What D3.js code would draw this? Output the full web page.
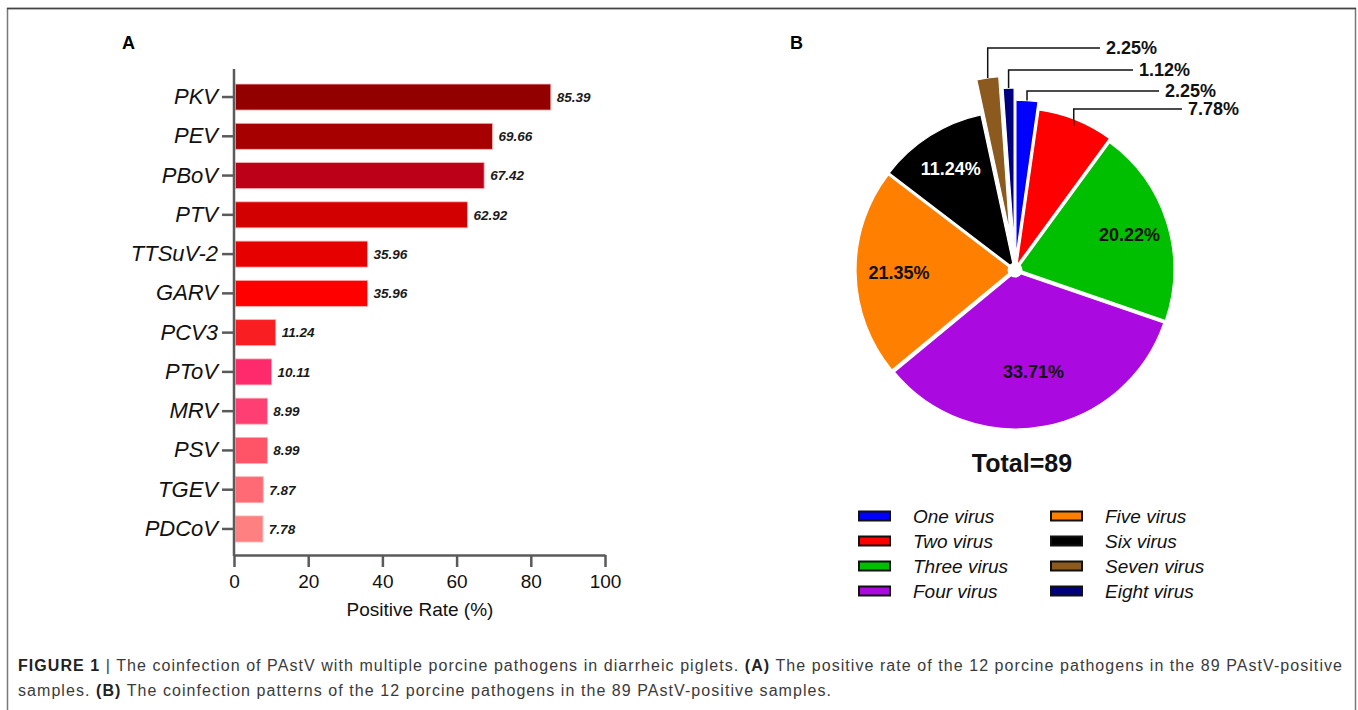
<!DOCTYPE html>
<html>
<head>
  <meta charset="utf-8">
<style>
  body { margin: 0; background: #fff; }
  svg { display: block; font-family: "Liberation Sans", Arial, sans-serif; }
</style>
<script src="https://d3js.org/d3.v7.min.js"></script>
<script>

  // panel A
  var pathogens = ["PKV", "PEV", "PBoV", "PTV", "TTSuV-2", "GARV", "PCV3", "PToV", "MRV", "PSV", "TGEV", "PDCoV"];
  var rates = [85.39, 69.66, 67.42, 62.92, 35.96, 35.96, 11.24, 10.11, 8.99, 8.99, 7.87, 7.78];
  var barColors = ["#930000", "#a70000", "#bc0018", "#d30000", "#e70000", "#ff0000",
                   "#f91e22", "#ff2a6b", "#ff3e73", "#ff5468", "#ff6a74", "#ff8080"];
  var xTicks = [0, 20, 40, 60, 80, 100];

  // panel B
  var patterns = ["One virus", "Two virus", "Three virus", "Four virus", "Five virus", "Six virus", "Seven virus", "Eight virus"];
  var shares = [2.25, 7.78, 20.22, 33.71, 21.35, 11.24, 2.25, 1.12];
  var shareLabels = ["2.25%", "7.78%", "20.22%", "33.71%", "21.35%", "11.24%", "2.25%", "1.12%"];
  var pieColors = ["#0000ff", "#ff0000", "#00bf00", "#aa0ae0", "#ff8000", "#000000", "#8c5a1e", "#00007f"];
  var total = 89;

  function draw() {
    var svg = d3.select("svg");

    // frame
    svg.append("path")
        .attr("d", "M7.5,720 V8.5 H1355.5 V720")
        .attr("fill", "none")
        .attr("stroke", "#777")
        .attr("stroke-width", 1.5);
    svg.append("line")
        .attr("x1", 7).attr("x2", 1356).attr("y1", 8.5).attr("y2", 8.5)
        .attr("stroke", "#444").attr("stroke-width", 1.5);

    // ---------- A: bar chart ----------
    var x = d3.scaleLinear().domain([0, 100]).range([234, 605]);
    var y = d3.scaleBand().domain(pathogens).range([77.4, 548.6])
        .paddingInner(0.338).paddingOuter(0.169);
    var axisColor = "#5a5a5a";

    svg.append("text").attr("x", 122).attr("y", 49)
        .attr("font-size", 18).attr("font-weight", "bold").text("A");

    svg.selectAll(".bar")
        .data(rates)
      .enter().append("rect")
        .attr("class", "bar")
        .attr("x", x(0) + 1.5)
        .attr("y", function(d, i) { return y(pathogens[i]); })
        .attr("width", function(d) { return x(d) - x(0) - 1.5; })
        .attr("height", y.bandwidth())
        .attr("fill", function(d, i) { return barColors[i]; })
        .attr("stroke", "#ffb0b0")
        .attr("stroke-width", 0.8);

    svg.selectAll(".val")
        .data(rates)
      .enter().append("text")
        .attr("class", "val")
        .attr("x", function(d) { return x(d) + 6; })
        .attr("y", function(d, i) { return y(pathogens[i]) + y.bandwidth() / 2; })
        .attr("dy", "0.36em")
        .attr("font-size", 13.5)
        .attr("font-weight", "bold")
        .attr("font-style", "italic")
        .attr("fill", "#1a1a1a")
        .text(function(d) { return d.toFixed(2); });

    // y axis
    var gy = svg.append("g")
        .attr("transform", "translate(" + x(0) + ",0)")
        .call(d3.axisLeft(y).tickSize(12).tickPadding(4).tickSizeOuter(0));
    gy.select(".domain").remove();
    gy.selectAll(".tick line").attr("stroke", axisColor).attr("stroke-width", 2.5);
    gy.selectAll(".tick text")
        .attr("font-size", 22).attr("font-style", "italic")
        .attr("font-family", "Liberation Sans, Arial, sans-serif")
        .attr("fill", "#111");
    svg.append("line")
        .attr("x1", x(0)).attr("x2", x(0)).attr("y1", 69).attr("y2", 556)
        .attr("stroke", axisColor).attr("stroke-width", 2.5);

    // x axis
    var gx = svg.append("g")
        .attr("transform", "translate(0,555)")
        .call(d3.axisBottom(x).tickValues(xTicks).tickSize(12).tickPadding(8).tickSizeOuter(0));
    gx.select(".domain").attr("stroke", axisColor).attr("stroke-width", 2.5);
    gx.selectAll(".tick line").attr("stroke", axisColor).attr("stroke-width", 2.5);
    gx.selectAll(".tick text")
        .attr("font-size", 19)
        .attr("font-family", "Liberation Sans, Arial, sans-serif")
        .attr("fill", "#111");

    svg.append("text")
        .attr("x", 420).attr("y", 616)
        .attr("text-anchor", "middle")
        .attr("font-size", 19).attr("fill", "#111")
        .text("Positive Rate (%)");

    // ---------- B: pie ----------
    svg.append("text").attr("x", 790).attr("y", 49)
        .attr("font-size", 18).attr("font-weight", "bold").text("B");

    var cx = 1015, cy = 270, R = 157;
    var explode = [13, 5, 2, 2, 2, 2, 37, 25];
    var pie = d3.pie().sort(null).value(function(d) { return d; });
    var arcs = pie(shares);
    var arc = d3.arc().innerRadius(0).outerRadius(R);
    var gp = svg.append("g").attr("transform", "translate(" + cx + "," + cy + ")");

    function mid(a) { return (a.startAngle + a.endAngle) / 2; }

    gp.selectAll(".slice")
        .data(arcs)
      .enter().append("path")
        .attr("class", "slice")
        .attr("d", arc)
        .attr("transform", function(a, i) {
          var m = mid(a);
          return "translate(" + explode[i] * Math.sin(m) + "," + (-explode[i] * Math.cos(m)) + ")";
        })
        .attr("fill", function(a, i) { return pieColors[i]; })
        .attr("stroke", "#fff")
        .attr("stroke-width", 1.2);

    gp.append("circle").attr("r", 7.5).attr("fill", "#fff");

    // labels inside the big slices
    var labelR = [0, 0, 120, 103, 116, 120, 0, 0];
    var inside = [2, 3, 4, 5];
    gp.selectAll(".plab")
        .data(inside)
      .enter().append("text")
        .attr("class", "plab")
        .attr("x", function(i) { return labelR[i] * Math.sin(mid(arcs[i])); })
        .attr("y", function(i) { return -labelR[i] * Math.cos(mid(arcs[i])); })
        .attr("dy", "0.36em")
        .attr("text-anchor", "middle")
        .attr("font-size", 18).attr("font-weight", "bold")
        .attr("fill", function(i) { return i === 5 ? "#fff" : "#111"; })
        .text(function(i) { return shareLabels[i]; });

    // leader-line labels for the small slices
    var callouts = [
      { i: 6, elbowY: 48, endX: 1100 },
      { i: 7, elbowY: 70, endX: 1133 },
      { i: 0, elbowY: 91, endX: 1159 },
      { i: 1, elbowY: 109, endX: 1182 }
    ];
    callouts.forEach(function(c) {
      var m = mid(arcs[c.i]);
      var r0 = R + explode[c.i] + (c.i === 1 ? -6 : 0);
      var px = cx + r0 * Math.sin(m), py = cy - r0 * Math.cos(m);
      svg.append("path")
          .attr("d", "M" + px + "," + py + " V" + c.elbowY + " H" + c.endX)
          .attr("fill", "none").attr("stroke", "#111").attr("stroke-width", 1.5);
      svg.append("text")
          .attr("x", c.endX + 6).attr("y", c.elbowY)
          .attr("dy", "0.36em")
          .attr("font-size", 18).attr("font-weight", "bold").attr("fill", "#111")
          .text(shareLabels[c.i]);
    });

    svg.append("text")
        .attr("x", 1022).attr("y", 472)
        .attr("text-anchor", "middle")
        .attr("font-size", 25).attr("font-weight", "bold").attr("fill", "#111")
        .text("Total=" + total);

    // legend: two columns of four
    var leg = svg.selectAll(".leg")
        .data(patterns)
      .enter().append("g")
        .attr("class", "leg")
        .attr("transform", function(d, i) {
          var col = Math.floor(i / 4), row = i % 4;
          return "translate(" + (858 + col * 192) + "," + (516 + row * 25) + ")";
        });
    leg.append("rect")
        .attr("x", 1).attr("y", -4.5).attr("width", 31).attr("height", 9)
        .attr("fill", function(d, i) { return pieColors[i]; })
        .attr("stroke", "#111").attr("stroke-width", 2);
    leg.append("text")
        .attr("x", 55).attr("dy", "0.36em")
        .attr("font-size", 19).attr("font-style", "italic").attr("fill", "#111")
        .text(function(d) { return d; });

    // caption
    var cap = svg.append("g")
        .attr("font-size", 16).attr("fill", "#3a3a3a");
    var l1 = cap.append("text").attr("x", 18).attr("y", 671);
    l1.append("tspan").attr("font-weight", "bold").attr("fill", "#222").text("FIGURE 1");
    l1.append("tspan").text(" | The coinfection of PAstV with multiple porcine pathogens in diarrheic piglets. ");
    l1.append("tspan").attr("font-weight", "bold").attr("fill", "#222").text("(A)");
    l1.append("tspan").text(" The positive rate of the 12 porcine pathogens in the 89 PAstV-positive");
    var l2 = cap.append("text").attr("x", 18).attr("y", 696);
    l2.append("tspan").text("samples. ");
    l2.append("tspan").attr("font-weight", "bold").attr("fill", "#222").text("(B)");
    l2.append("tspan").text(" The coinfection patterns of the 12 porcine pathogens in the 89 PAstV-positive samples.");

    // stretch the caption so the first line spans the frame like the original
    var w1 = l1.node().getComputedTextLength();
    var n1 = l1.text().length;
    var ls = (1325 - w1) / n1;
    cap.attr("letter-spacing", ls);
  }

  window.onload = draw;

</script>
</head>
<body>
  <svg width="1358" height="710"></svg>
</body>
</html>
